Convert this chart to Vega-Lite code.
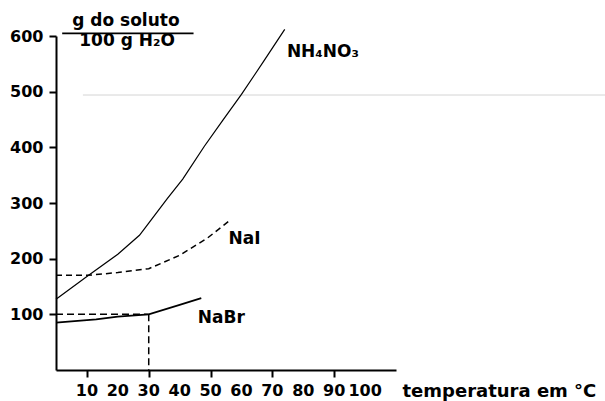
{
  "$schema": "https://vega.github.io/schema/vega-lite/v6.json",
  "width": 340,
  "height": 334,
  "autosize": {"type": "none"},
  "padding": {"left": 56, "top": 36, "right": 209, "bottom": 31},
  "background": "white",
  "config": {
    "view": {"stroke": null},
    "font": "DejaVu Sans",
    "axis": {
      "domainColor": "black", "domainWidth": 2,
      "tickColor": "black", "tickWidth": 2, "tickSize": 7,
      "labelFont": "DejaVu Sans", "labelFontWeight": "bold", "labelFontSize": 16, "labelColor": "black",
      "labelPadding": 6, "grid": false
    }
  },
  "datasets": {
    "curves": [
      {"series": "NH4NO3", "t": 0, "s": 127},
      {"series": "NH4NO3", "t": 10, "s": 168},
      {"series": "NH4NO3", "t": 20, "s": 208},
      {"series": "NH4NO3", "t": 27, "s": 242},
      {"series": "NH4NO3", "t": 30, "s": 264},
      {"series": "NH4NO3", "t": 36, "s": 308},
      {"series": "NH4NO3", "t": 41, "s": 343},
      {"series": "NH4NO3", "t": 48, "s": 402},
      {"series": "NH4NO3", "t": 54, "s": 449},
      {"series": "NH4NO3", "t": 60, "s": 495},
      {"series": "NH4NO3", "t": 67, "s": 553},
      {"series": "NH4NO3", "t": 74, "s": 612},
      {"series": "NaI", "t": 0, "s": 170},
      {"series": "NaI", "t": 10, "s": 170},
      {"series": "NaI", "t": 20, "s": 175},
      {"series": "NaI", "t": 30, "s": 182},
      {"series": "NaI", "t": 40, "s": 206},
      {"series": "NaI", "t": 49, "s": 237},
      {"series": "NaI", "t": 56.5, "s": 270},
      {"series": "NaBr", "t": 0, "s": 85},
      {"series": "NaBr", "t": 13, "s": 91},
      {"series": "NaBr", "t": 20, "s": 96},
      {"series": "NaBr", "t": 30, "s": 100},
      {"series": "NaBr", "t": 40, "s": 117},
      {"series": "NaBr", "t": 47, "s": 129}
    ],
    "refs": [
      {"series": "h", "t": 0, "s": 100},
      {"series": "h", "t": 30, "s": 100},
      {"series": "v", "t": 30, "s": 100},
      {"series": "v", "t": 30, "s": 0}
    ],
    "labels": [
      {"label": "NH₄NO₃", "t": 74.7, "s": 562},
      {"label": "NaI", "t": 55.8, "s": 226},
      {"label": "NaBr", "t": 45.9, "s": 84.5}
    ],
    "unit": [
      {"label": "g do soluto", "t": 22.6, "s": 618},
      {"label": "100 g H₂O", "t": 23, "s": 582}
    ],
    "xticks": [
      {"t": 10, "s": -23.5, "label": "10"},
      {"t": 20, "s": -23.5, "label": "20"},
      {"t": 30, "s": -23.5, "label": "30"},
      {"t": 40, "s": -23.5, "label": "40"},
      {"t": 50, "s": -23.5, "label": "50"},
      {"t": 60, "s": -23.5, "label": "60"},
      {"t": 70, "s": -23.5, "label": "70"},
      {"t": 80, "s": -23.5, "label": "80"},
      {"t": 90, "s": -23.5, "label": "90"},
      {"t": 100, "s": -23.5, "label": "100"}
    ],
    "bar": [{"t1": 2, "t2": 44.5, "s": 604.7}],
    "stray": [{"t1": 8.7, "t2": 178, "s": 494}]
  },
  "layer": [
    {
      "data": {"name": "refs"},
      "mark": {"type": "line", "color": "black", "strokeWidth": 1.5, "strokeDash": [7, 4]},
      "encoding": {
        "x": {"field": "t", "type": "quantitative", "scale": {"domain": [0, 110], "nice": false},
          "axis": {"values": [10, 20, 30, 40, 50, 60, 70, 80, 90, 100], "title": "temperatura em °C", "labels": false,
            "titleFont": "DejaVu Sans", "titleFontWeight": "bold", "titleFontSize": 18, "titleColor": "black",
            "titleX": 346, "titleY": 26, "titleAlign": "left", "titleBaseline": "alphabetic", "titleAnchor": "start"}},
        "y": {"field": "s", "type": "quantitative", "scale": {"domain": [0, 600], "nice": false},
          "axis": {"values": [100, 200, 300, 400, 500, 600], "title": null, "labelOverlap": false}},
        "detail": {"field": "series"}
      }
    },
    {
      "data": {"name": "stray"},
      "mark": {"type": "rule", "color": "#d4d4d4", "strokeWidth": 1},
      "encoding": {
        "x": {"field": "t1", "type": "quantitative"},
        "x2": {"field": "t2"},
        "y": {"field": "s", "type": "quantitative"}
      }
    },
    {
      "data": {"name": "curves"},
      "transform": [{"filter": "datum.series === 'NaI'"}],
      "mark": {"type": "line", "color": "black", "strokeWidth": 1.5, "strokeDash": [6, 4]},
      "encoding": {
        "x": {"field": "t", "type": "quantitative"},
        "y": {"field": "s", "type": "quantitative"}
      }
    },
    {
      "data": {"name": "curves"},
      "transform": [{"filter": "datum.series === 'NH4NO3'"}],
      "mark": {"type": "line", "color": "black", "strokeWidth": 1.2},
      "encoding": {
        "x": {"field": "t", "type": "quantitative"},
        "y": {"field": "s", "type": "quantitative"}
      }
    },
    {
      "data": {"name": "curves"},
      "transform": [{"filter": "datum.series === 'NaBr'"}],
      "mark": {"type": "line", "color": "black", "strokeWidth": 1.8},
      "encoding": {
        "x": {"field": "t", "type": "quantitative"},
        "y": {"field": "s", "type": "quantitative"}
      }
    },
    {
      "data": {"name": "xticks"},
      "mark": {"type": "text", "align": "center", "baseline": "top", "fontWeight": "bold", "fontSize": 16, "font": "DejaVu Sans", "color": "black"},
      "encoding": {
        "x": {"field": "t", "type": "quantitative"},
        "y": {"field": "s", "type": "quantitative"},
        "text": {"field": "label"}
      }
    },
    {
      "data": {"name": "labels"},
      "mark": {"type": "text", "align": "left", "baseline": "alphabetic", "fontWeight": "bold", "fontSize": 17, "font": "DejaVu Sans", "color": "black"},
      "encoding": {
        "x": {"field": "t", "type": "quantitative"},
        "y": {"field": "s", "type": "quantitative"},
        "text": {"field": "label"}
      }
    },
    {
      "data": {"name": "unit"},
      "mark": {"type": "text", "align": "center", "baseline": "alphabetic", "fontWeight": "bold", "fontSize": 17, "font": "DejaVu Sans", "color": "black"},
      "encoding": {
        "x": {"field": "t", "type": "quantitative"},
        "y": {"field": "s", "type": "quantitative"},
        "text": {"field": "label"}
      }
    },
    {
      "data": {"name": "bar"},
      "mark": {"type": "rule", "color": "black", "strokeWidth": 1.8},
      "encoding": {
        "x": {"field": "t1", "type": "quantitative"},
        "x2": {"field": "t2"},
        "y": {"field": "s", "type": "quantitative"}
      }
    }
  ]
}
